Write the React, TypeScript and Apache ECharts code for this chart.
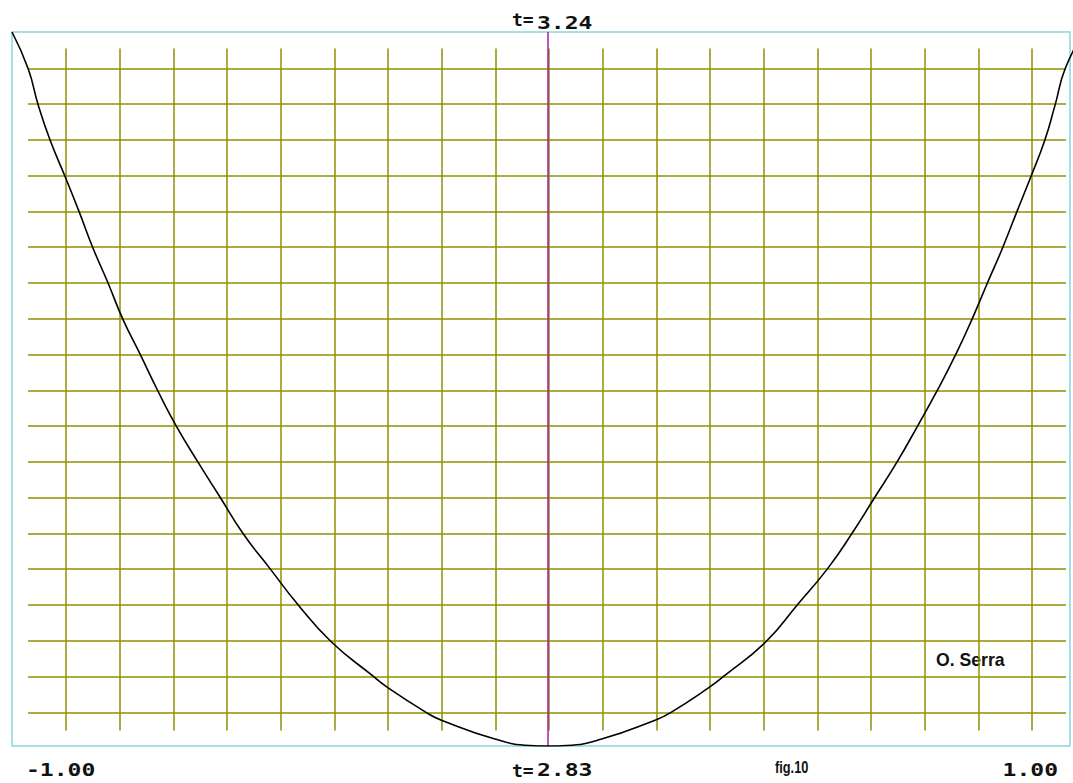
import React, { useEffect, useRef } from "react";
import * as echarts from "echarts";

// Curve values: parameter x in [-1, 1], value t
const curveX = [
  -1.0, -0.97, -0.951, -0.929, -0.901, -0.875, -0.849, -0.821, -0.793, -0.761,
  -0.728, -0.694, -0.653, -0.612, -0.569, -0.519, -0.466, -0.405, -0.328, -0.299,
  -0.226, -0.2, -0.099, -0.034, 0.0,
  0.035, 0.1, 0.201, 0.228, 0.3, 0.33, 0.407, 0.465, 0.522, 0.567,
  0.61, 0.651, 0.69, 0.726, 0.761, 0.791, 0.82, 0.848, 0.875, 0.901,
  0.927, 0.946, 0.965, 1.0,
];
const curveT = [
  3.24, 3.219, 3.198, 3.178, 3.157, 3.137, 3.116, 3.096, 3.075, 3.055,
  3.034, 3.014, 2.993, 2.973, 2.952, 2.932, 2.911, 2.89, 2.8705, 2.8635,
  2.849, 2.845, 2.834, 2.8303, 2.83,
  2.8303, 2.834, 2.845, 2.849, 2.8635, 2.8705, 2.89, 2.911, 2.932, 2.952,
  2.973, 2.993, 3.014, 3.034, 3.055, 3.075, 3.096, 3.116, 3.137, 3.157,
  3.178, 3.198, 3.219, 3.24,
];

const xRange = [-1, 1];
const tRange = [2.83, 3.24];
const centerX = 0;
const gridColumns = 18; // intervals between vertical grid lines
const gridRows = 18; // intervals between horizontal grid lines

const leftLabel = "-1.00";
const rightLabel = "1.00";
const tPrefix = "t=";
const bottomValue = "2.83";
const topValue = "3.24";
const figLabel = "fig.10";
const authorLabel = "O. Serra";

const GRID_COLOR = "#8f8f00";
const MONO = 'bold 18px "DejaVu Sans Mono"';

export default function App() {
  const ref = useRef<HTMLDivElement>(null);

  useEffect(() => {
    if (!ref.current) return;
    const chart = echarts.init(ref.current, null, { renderer: "svg" });

    const hiddenAxis = (gridIndex: number) => ({
      gridIndex,
      type: "value",
      show: false,
      min: 0,
      max: 1,
    });

    const txt = (text: string, x: number, y: number, font: string, scaleX: number, align = "left") => ({
      type: "text",
      x,
      y,
      scaleX,
      style: { text, font, fill: "#111", align, verticalAlign: "middle" },
    });

    chart.setOption({
      animation: false,
      backgroundColor: "#ffffff",
      grid: [
        {
          left: 12,
          top: 32,
          width: 1058,
          height: 714,
          show: true,
          borderColor: "#86d8dc",
          borderWidth: 1.5,
          backgroundColor: "transparent",
        },
        { left: 66, top: 48.5, width: 966, height: 682 },
        { left: 28, top: 68.3, width: 1038, height: 644 },
        { left: 12, top: 32, width: 1072, height: 714 },
      ],
      xAxis: [
        hiddenAxis(0),
        {
          gridIndex: 1,
          type: "value",
          min: 0,
          max: gridColumns,
          interval: 1,
          axisLine: { show: false },
          axisTick: { show: false },
          axisLabel: { show: false },
          splitLine: {
            show: true,
            showMinLine: true,
            showMaxLine: true,
            lineStyle: { color: GRID_COLOR, width: 1.5 },
          },
        },
        hiddenAxis(2),
        {
          gridIndex: 3,
          type: "value",
          min: xRange[0],
          max: xRange[1],
          show: false,
        },
      ],
      yAxis: [
        hiddenAxis(0),
        hiddenAxis(1),
        {
          gridIndex: 2,
          type: "value",
          min: 0,
          max: gridRows,
          interval: 1,
          axisLine: { show: false },
          axisTick: { show: false },
          axisLabel: { show: false },
          splitLine: {
            show: true,
            showMinLine: true,
            showMaxLine: true,
            lineStyle: { color: GRID_COLOR, width: 1.5 },
          },
        },
        {
          gridIndex: 3,
          type: "value",
          min: tRange[0],
          max: tRange[1],
          show: false,
        },
      ],
      series: [
        {
          type: "line",
          xAxisIndex: 3,
          yAxisIndex: 3,
          data: curveX.map((x, i) => [x, curveT[i]]),
          showSymbol: false,
          smooth: 0.5,
          clip: true,
          lineStyle: { color: "#000000", width: 1.6 },
          markLine: {
            silent: true,
            symbol: "none",
            label: { show: false },
            lineStyle: { color: "#a01fa8", width: 1.5, type: "solid" },
            data: [{ xAxis: centerX }],
          },
          z: 5,
        },
      ],
      graphic: [
        txt(leftLabel, 26, 770, MONO, 1.28),
        txt(rightLabel, 1058, 770, MONO, 1.28, "right"),
        txt(tPrefix, 512, 770, MONO, 1.0),
        txt(bottomValue, 537, 770, MONO, 1.28),
        txt(tPrefix, 512, 19, MONO, 1.0),
        txt(topValue, 537, 23, MONO, 1.28),
        txt(figLabel, 775, 767, 'bold 16px "Liberation Sans"', 0.8),
        txt(authorLabel, 936, 660, 'bold 18px "Liberation Sans"', 0.98),
      ],
    });

    return () => chart.dispose();
  }, []);

  return (
    <div
      style={{ position: "absolute", left: 0, top: 0, width: 1073, height: 783, overflow: "hidden" }}
    >
      <div ref={ref} style={{ width: 1090, height: 783 }} />
    </div>
  );
}
